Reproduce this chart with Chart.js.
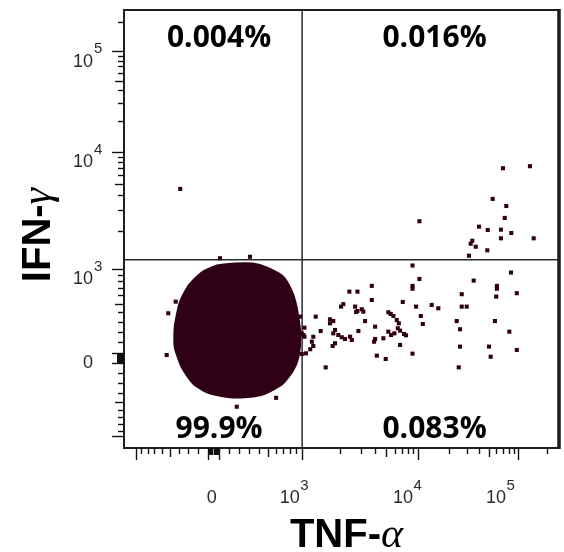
<!DOCTYPE html>
<html>
<head>
<meta charset="utf-8">
<script src="https://cdn.jsdelivr.net/npm/chart.js@4.4.1/dist/chart.umd.min.js"></script>
<style>
html,body{margin:0;padding:0;background:#fff;}
canvas{display:block;}
</style>
</head>
<body>
<canvas id="c" width="564" height="552"></canvas>
<script>
// ---------------- data ----------------
const xTitle = ['TNF-', '\u03b1'];
const yTitle = ['IFN-', '\u03b3'];
const quadrantLabels = { UL: '0.004%', UR: '0.016%', LL: '99.9%', LR: '0.083%' };
const gateTNF = 1005;
const gateIFN = 1180;

// tick values (logicle axis)
const majorTicks  = [-1000, -100, 0, 1000, 10000, 100000];
const mediumTicks = [-500, 500, 5000, 50000];
const minorTicks  = [-900,-800,-700,-600,-400,-300,-200,100,200,300,400,600,700,800,900,
                     2000,3000,4000,6000,7000,8000,9000,20000,30000,40000,60000,70000,80000,90000,200000];
const blockTicks  = [-90,-80,-70,-60,-50,-40,-30,-20,-10];
const labelValues = [0, 1000, 10000, 100000];
const labelBase   = ['0', '10', '10', '10'];
const labelExp    = ['', '3', '4', '5'];

// dense main population (outline of the solid cloud)
const blobTNF = [-152,-17,157,339,495,699,817,884,935,970,935,849,699,530,414,256,108,-113,-251,-366,-442,-442,-387,-301,-231,-152];
const blobIFN = [949,1058,1098,1098,1018,863,670,518,340,169,-42,-167,-296,-380,-423,-446,-446,-391,-296,-138,54,248,507,713,830,949];

// individual events
const eventsTNF = [-384,70050,132300,55000,75700,10260,72960,40000,48960,66800,85150,66800,144500,34180,32930,37000,48480,31660,
  8815,84560,10260,35300,3733,8815,8815,60710,60710,2401,2805,26760,96910,59700,3733,2139,2050,7130,13500,15670,26760,30040,
  9530,2683,2805,3056,3152,5245,5520,5835,10580,11060,1287,1670,1775,1670,1833,2736,3258,6274,6550,23840,57950,3991,25730,
  81240,1409,1049,1049,1232,1775,1948,2078,2211,2434,2515,2860,5245,5555,5962,6410,6735,7330,7650,3991,3910,4730,1833,1755,
  1200,1232,1165,1078,999,6735,25730,50440,52450,96910,4134,4966,8815,1544,24970,999,-539,-520,-434,174,606,12,307,1029,970];
const eventsIFN = [4534,6990,7300,3702,3215,2393,2550,2160,2031,2043,1920,1741,1741,1667,1578,1494,1400,1270,
  1064,936,830,805,727,727,687,727,687,648,648,614,627,584,542,492,464,518,483,445,464,464,
  464,464,415,434,408,401,383,361,361,278,354,326,308,285,218,404,308,318,285,308,308,251,225,
  201,208,241,152,152,185,169,147,130,152,121,208,201,169,185,235,211,179,166,130,104,137,89,63,
  104,63,32,-7,-13,73,57,57,-39,25,-29,-61,-10,-141,-141,185,-23,390,522,-560,-455,1214,1246,169,354];

// ---------------- logicle transform ----------------
const LOGICLE = { T: 262144, W: 0.98, M: 4.5 };
function makeLogicle(T, W, M) {
  const w = W * Math.LN10, m = M * Math.LN10;
  let lo = 1.000001, hi = 1000;
  for (let i = 0; i < 200; i++) {
    const mid = (lo + hi) / 2;
    const f = 2 * mid * Math.log(mid) / (mid + 1);
    if (f < w) lo = mid; else hi = mid;
  }
  const p = (lo + hi) / 2, K = T * Math.exp(-(m - w));
  const S = x => x >= w ? K * (Math.exp(x - w) - p * p * Math.exp(-(x - w) / p) + p * p - 1) : -S(2 * w - x);
  const frac = v => {
    let a = -m, b = 2 * m;
    for (let i = 0; i < 70; i++) { const c = (a + b) / 2; if (S(c) < v) a = c; else b = c; }
    return (a + b) / 2 / m;
  };
  return { S, frac, m, min: S(0), max: S(m) };
}
const LG = makeLogicle(LOGICLE.T, LOGICLE.W, LOGICLE.M);

class LogicleScale extends Chart.Scale {
  determineDataLimits() { this.min = LG.min; this.max = LG.max; }
  buildTicks() { return labelValues.map(v => ({ value: v })); }
  getPixelForValue(v) { return this.getPixelForDecimal(LG.frac(v)); }
  getValueForPixel(px) { return LG.S(this.getDecimalForPixel(px) * LG.m); }
  getLabelForValue(v) { return String(v); }
}
LogicleScale.id = 'logicle';
LogicleScale.defaults = {};
Chart.register(LogicleScale);

// ---------------- style ----------------
const DOT = '#300016';
const INK = '#1e1e1e';
const labelDx = [-7, -8, -11, -18];
const TITLE_FONT = 'bold 40px "Liberation Sans", Arial, sans-serif';
const GREEK_FONT = 'italic 42px "Liberation Serif", "DejaVu Serif", serif';

const events = eventsTNF.map((x, i) => ({ x, y: eventsIFN[i] }));
const blob = blobTNF.map((x, i) => ({ x, y: blobIFN[i] }));

function drawTitle(ctx, parts, cx, cy) {
  ctx.font = TITLE_FONT; const w1 = ctx.measureText(parts[0]).width;
  ctx.font = GREEK_FONT; const w2 = ctx.measureText(parts[1]).width;
  const sx = cx - (w1 + w2) / 2;
  ctx.textAlign = 'left';
  ctx.font = TITLE_FONT; ctx.fillText(parts[0], sx, cy);
  ctx.font = GREEK_FONT; ctx.fillText(parts[1], sx + w1, cy);
}

const decor = {
  id: 'decor',
  afterDatasetsDraw(chart) {
    const ctx = chart.ctx, ca = chart.chartArea;
    const xs = chart.scales.x, ys = chart.scales.y;
    ctx.save();
    // frame
    ctx.strokeStyle = INK;
    ctx.lineWidth = 2;
    ctx.strokeRect(ca.left, ca.top, ca.right - ca.left, ca.bottom - ca.top);
    ctx.lineWidth = 3.5;
    ctx.beginPath(); ctx.moveTo(ca.right, ca.top - 1); ctx.lineTo(ca.right, ca.bottom + 1); ctx.stroke();

    // ticks
    const groups = [[majorTicks, 12], [mediumTicks, 9], [minorTicks, 6], [blockTicks, 7]];
    ctx.lineWidth = 1.4;
    ctx.strokeStyle = '#111';
    groups.forEach(([vals, len]) => {
      vals.forEach(v => {
        const px = Math.round(xs.getPixelForValue(v)) + 0.5;
        ctx.beginPath(); ctx.moveTo(px, ca.bottom); ctx.lineTo(px, ca.bottom + len); ctx.stroke();
        const py = Math.round(ys.getPixelForValue(v)) + 0.5;
        ctx.beginPath(); ctx.moveTo(ca.left, py); ctx.lineTo(ca.left - len, py); ctx.stroke();
      });
    });

    // tick labels
    ctx.fillStyle = '#2a2a2a';
    ctx.textBaseline = 'alphabetic';
    const baseFont = '18px "Liberation Sans", Arial, sans-serif';
    const expFont = '15px "Liberation Sans", Arial, sans-serif';
    labelValues.forEach((v, i) => {
      ctx.font = baseFont; const wb = ctx.measureText(labelBase[i]).width;
      ctx.font = expFont; const we = labelExp[i] ? ctx.measureText(labelExp[i]).width : 0;
      // x axis
      const cx = xs.getPixelForValue(v) + labelDx[i];
      const sx = cx - (wb + we) / 2;
      ctx.textAlign = 'left';
      ctx.font = baseFont; ctx.fillText(labelBase[i], sx, ca.bottom + 55);
      if (labelExp[i]) { ctx.font = expFont; ctx.fillText(labelExp[i], sx + wb + 0.5, ca.bottom + 42); }
      // y axis
      const by = ys.getPixelForValue(v) + 15.5;
      const rx = ca.left - 31;
      ctx.textAlign = 'right';
      ctx.font = baseFont; ctx.fillText(labelBase[i], rx, by);
      if (labelExp[i]) { ctx.textAlign = 'left'; ctx.font = expFont; ctx.fillText(labelExp[i], rx + 1, by - 13.5); }
    });

    // axis titles
    ctx.fillStyle = '#000';
    drawTitle(ctx, xTitle, (ca.left + ca.right) / 2 + 5, 546.5);
    ctx.save();
    ctx.translate(50, (ca.top + ca.bottom) / 2 + 6);
    ctx.rotate(-Math.PI / 2);
    drawTitle(ctx, yTitle, 0, 0);
    ctx.restore();

    // quadrant labels
    const gx = xs.getPixelForValue(gateTNF);
    ctx.font = 'bold 30px "Open Sans", sans-serif';
    ctx.fillStyle = '#000';
    ctx.textAlign = 'center';
    const lx = (ca.left + gx) / 2 + 6, rx2 = (gx + ca.right) / 2 + 4;
    ctx.fillText(quadrantLabels.UL, lx, ca.top + 36.5);
    ctx.fillText(quadrantLabels.UR, rx2, ca.top + 36.5);
    ctx.fillText(quadrantLabels.LL, lx, ca.bottom - 10);
    ctx.fillText(quadrantLabels.LR, rx2, ca.bottom - 10);
    ctx.restore();
  }
};

new Chart(document.getElementById('c'), {
  type: 'scatter',
  data: {
    datasets: [
      { label: 'events', data: events, pointStyle: 'rect', pointRadius: 2.9, pointBackgroundColor: DOT,
        pointBorderWidth: 0, backgroundColor: DOT, borderColor: DOT, order: 0 },
      { label: 'gateX', type: 'line', data: [{ x: gateTNF, y: LG.min }, { x: gateTNF, y: LG.max }],
        borderColor: '#2a2a2a', borderWidth: 1.5, pointRadius: 0, showLine: true, fill: false, order: 1 },
      { label: 'gateY', type: 'line', data: [{ x: LG.min, y: gateIFN }, { x: LG.max, y: gateIFN }],
        borderColor: '#2a2a2a', borderWidth: 1.5, pointRadius: 0, showLine: true, fill: false, order: 1 },
      { label: 'main', type: 'line', data: blob, showLine: true, fill: 'shape', tension: 0.2,
        backgroundColor: DOT, borderColor: DOT, borderWidth: 2.5, pointRadius: 0, order: 2 }
    ]
  },
  options: {
    responsive: false,
    animation: false,
    devicePixelRatio: 1,
    layout: { padding: { left: 124, right: 5, top: 10, bottom: 104 } },
    scales: {
      x: { type: 'logicle', display: false },
      y: { type: 'logicle', display: false }
    },
    plugins: { legend: { display: false }, tooltip: { enabled: false } }
  },
  plugins: [decor]
});
</script>
</body>
</html>
